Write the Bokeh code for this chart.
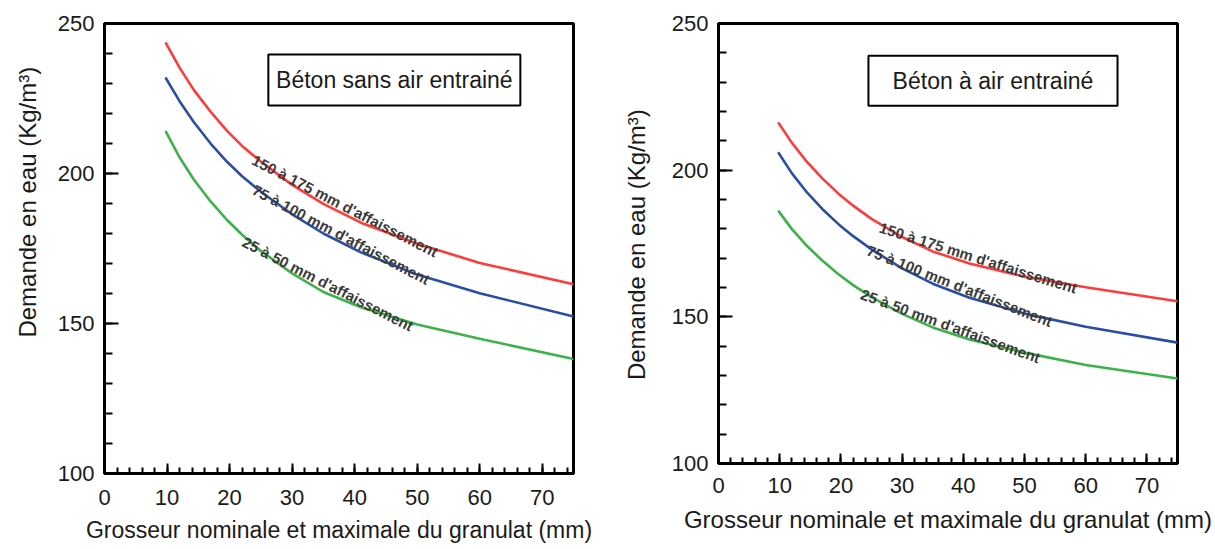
import numpy as np
from math import atan2, sin, cos

from bokeh.plotting import figure
from bokeh.layouts import row
from bokeh.models import FixedTicker, Range1d
from bokeh.core.properties import value
from bokeh.embed import file_html
from bokeh.resources import INLINE

# Nominal maximum aggregate size (mm)
granulat_mm = [9.75, 12, 14.3, 17, 19.6, 22, 25, 30, 35, 41, 50, 60, 75]

# Water demand (kg/m3) - concrete without entrained air
sans_air_150_175 = [243.7, 235.3, 227.8, 220.5, 214.2, 209.2, 204.0, 196.2, 189.9, 183.6, 176.6, 170.2, 163.1]
sans_air_75_100 = [232.0, 224.1, 217.1, 209.9, 203.9, 199.1, 193.9, 186.4, 180.0, 173.7, 166.3, 160.1, 152.3]
sans_air_25_50 = [214.2, 205.4, 197.9, 190.6, 184.5, 179.6, 174.2, 166.7, 160.5, 155.4, 149.7, 144.9, 138.2]

# Water demand (kg/m3) - air-entrained concrete
air_150_175 = [216.3, 209.3, 203.2, 197.1, 192.0, 187.9, 183.4, 177.2, 172.3, 168.2, 163.7, 160.1, 155.3]
air_75_100 = [206.1, 198.9, 192.8, 186.7, 181.6, 177.5, 173.0, 166.5, 161.3, 156.5, 151.1, 146.6, 141.2]
air_25_50 = [186.2, 179.9, 174.5, 169.1, 164.5, 160.8, 156.7, 151.0, 146.4, 142.3, 137.8, 133.6, 129.0]

slump_labels = ["150 à 175 mm d'affaissement",
                "75 à 100 mm d'affaissement",
                "25 à 50 mm d'affaissement"]
titles = ["Béton sans air entrainé", "Béton à air entrainé"]
x_ticks = [0, 10, 20, 30, 40, 50, 60, 70]
y_ticks = [100, 150, 200, 250]
x_title = "Grosseur nominale et maximale du granulat (mm)"
y_title = "Demande en eau (Kg/m³)"

COLORS = ["#ff3b3b", "#2a4ea6", "#3cb34a"]
FONT_NAME = "Liberation Sans"
FONT = value(FONT_NAME)
INK = "#1a1a1a"
LABEL_FS = 15
PAGE_H = 549

# approximate advance widths (em) of bold Liberation Sans
BOLD_W = {c: 0.556 for c in "0123456789àaesé"}
BOLD_W.update({" ": 0.278, "m": 0.889, "d": 0.611, "'": 0.238, "f": 0.333,
               "i": 0.278, "n": 0.611, "t": 0.333, "s": 0.556})

XMIN, XMAX, YMIN, YMAX = 0, 75, 100, 250


def chord_label(xs, ys, x0, text, fs, kx, ky, gap=2.0):
    """Straight label laid along the chord of a curve, starting at x0."""
    xs = np.asarray(xs, float)
    ys = np.asarray(ys, float)
    w = sum(BOLD_W.get(c, 0.556) for c in text) * fs
    y0 = np.interp(x0, xs, ys)
    xx = np.linspace(x0, XMAX, 3000)
    yy = np.interp(xx, xs, ys)
    dist = np.hypot((xx - x0) * kx, (yy - y0) * ky)
    i = min(int(np.searchsorted(dist, w)), len(xx) - 1)
    x1, y1 = xx[i], yy[i]
    sx0, sy0, sx1, sy1 = x0 * kx, y0 * ky, x1 * kx, y1 * ky
    ang = atan2(sy1 - sy0, sx1 - sx0)
    # largest distance between the chord and the curve underneath
    seg = (xx <= x1)
    cx = xx[seg] * kx
    cy = yy[seg] * ky
    chord_y = sy0 + (cx - sx0) * (sy1 - sy0) / (sx1 - sx0)
    sag = float(np.max(chord_y - cy)) * cos(ang)
    off = gap - 0.45 * sag
    mx = (sx0 + sx1) / 2 - sin(ang) * off
    my = (sy0 + sy1) / 2 + cos(ang) * off
    return mx / kx, my / ky, ang


def y_title_strip(width, cx, cy_from_top, size):
    """Narrow strip holding the vertical y-axis title."""
    s = figure(width=width, height=PAGE_H, min_border=0,
               x_range=Range1d(0, width), y_range=Range1d(0, PAGE_H),
               x_axis_type=None, y_axis_type=None,
               output_backend="svg", toolbar_location=None)
    s.outline_line_color = None
    s.xgrid.visible = False
    s.ygrid.visible = False
    s.text(x=[cx], y=[PAGE_H - cy_from_top], text=[y_title], angle=np.pi / 2,
           text_align="center", text_baseline="middle", text_font=FONT,
           text_font_size=size, text_color=INK)
    return s


def panel(series, title, box, label_x0, frame_w, frame_h, b_left, b_top, b_right, b_bottom,
          xlab_size, xlab_standoff, xtick_standoff):
    p = figure(frame_width=frame_w, frame_height=frame_h,
               min_border_left=b_left, min_border_top=b_top,
               min_border_right=b_right, min_border_bottom=b_bottom,
               x_range=Range1d(XMIN, XMAX), y_range=Range1d(YMIN, YMAX),
               output_backend="svg", toolbar_location=None)
    p.xgrid.visible = False
    p.ygrid.visible = False
    p.outline_line_color = "black"
    p.outline_line_width = 3
    p.background_fill_color = "white"
    p.border_fill_color = "white"

    xa, ya = p.xaxis[0], p.yaxis[0]
    xa.ticker = FixedTicker(ticks=x_ticks, minor_ticks=list(range(0, 76, 2)))
    ya.ticker = FixedTicker(ticks=y_ticks, minor_ticks=list(range(100, 251, 10)))
    for ax in (xa, ya):
        ax.axis_line_width = 3
        ax.axis_line_color = "black"
        ax.major_tick_out = 0
        ax.minor_tick_out = 0
        ax.major_tick_line_width = 2
        ax.minor_tick_line_width = 2
        ax.major_label_text_font = FONT_NAME
        ax.major_label_text_font_size = "22px"
        ax.major_label_text_color = INK
    xa.major_tick_in = 10
    xa.minor_tick_in = 6
    ya.major_tick_in = 14
    ya.minor_tick_in = 8
    xa.major_label_standoff = xtick_standoff
    ya.major_label_standoff = 10

    xa.axis_label = x_title
    xa.axis_label_text_font = FONT_NAME
    xa.axis_label_text_font_size = xlab_size
    xa.axis_label_text_font_style = "normal"
    xa.axis_label_text_color = INK
    xa.axis_label_standoff = xlab_standoff

    # slump curves
    for ys, col in zip(series, COLORS):
        p.line(granulat_mm, ys, line_color=col, line_width=2.6)

    # curve labels
    kx = frame_w / (XMAX - XMIN)
    ky = frame_h / (YMAX - YMIN)
    lx, ly, la = [], [], []
    for ys, txt, x0 in zip(series, slump_labels, label_x0):
        a, b, c = chord_label(granulat_mm, ys, x0, txt, LABEL_FS, kx, ky)
        lx.append(a)
        ly.append(b)
        la.append(c)
    p.text(x=lx, y=ly, text=slump_labels, angle=la, text_align="center",
           text_baseline="alphabetic", text_font=FONT, text_font_style="bold",
           text_font_size=f"{LABEL_FS}px", text_color="#3a3a3a")

    # title box
    l, r, bt, tp = box
    p.quad(left=[l], right=[r], bottom=[bt], top=[tp], fill_color="white",
           line_color="black", line_width=2)
    p.text(x=[(l + r) / 2], y=[(bt + tp) / 2], text=[title], text_align="center",
           text_baseline="middle", text_font=FONT, text_font_size="23px",
           text_color=INK)
    return p


strip_left = y_title_strip(45, 27, 223, "24px")
left = panel([sans_air_150_175, sans_air_75_100, sans_air_25_50], titles[0],
             (26.2, 66.5, 222.7, 239.7), [24.0, 24.0, 22.5],
             469, 450, 59, 21, 27, 78, "23px", 9, 16)
strip_right = y_title_strip(60, 36, 276, "24px")
right = panel([air_150_175, air_75_100, air_25_50], titles[1],
              (24.5, 65.2, 222.0, 239.0), [26.5, 24.5, 23.5],
              459, 440, 58, 23, 38, 86, "24px", 10, 14)

layout = row(strip_left, left, strip_right, right)
open("out.html", "w").write(file_html(layout, INLINE))
